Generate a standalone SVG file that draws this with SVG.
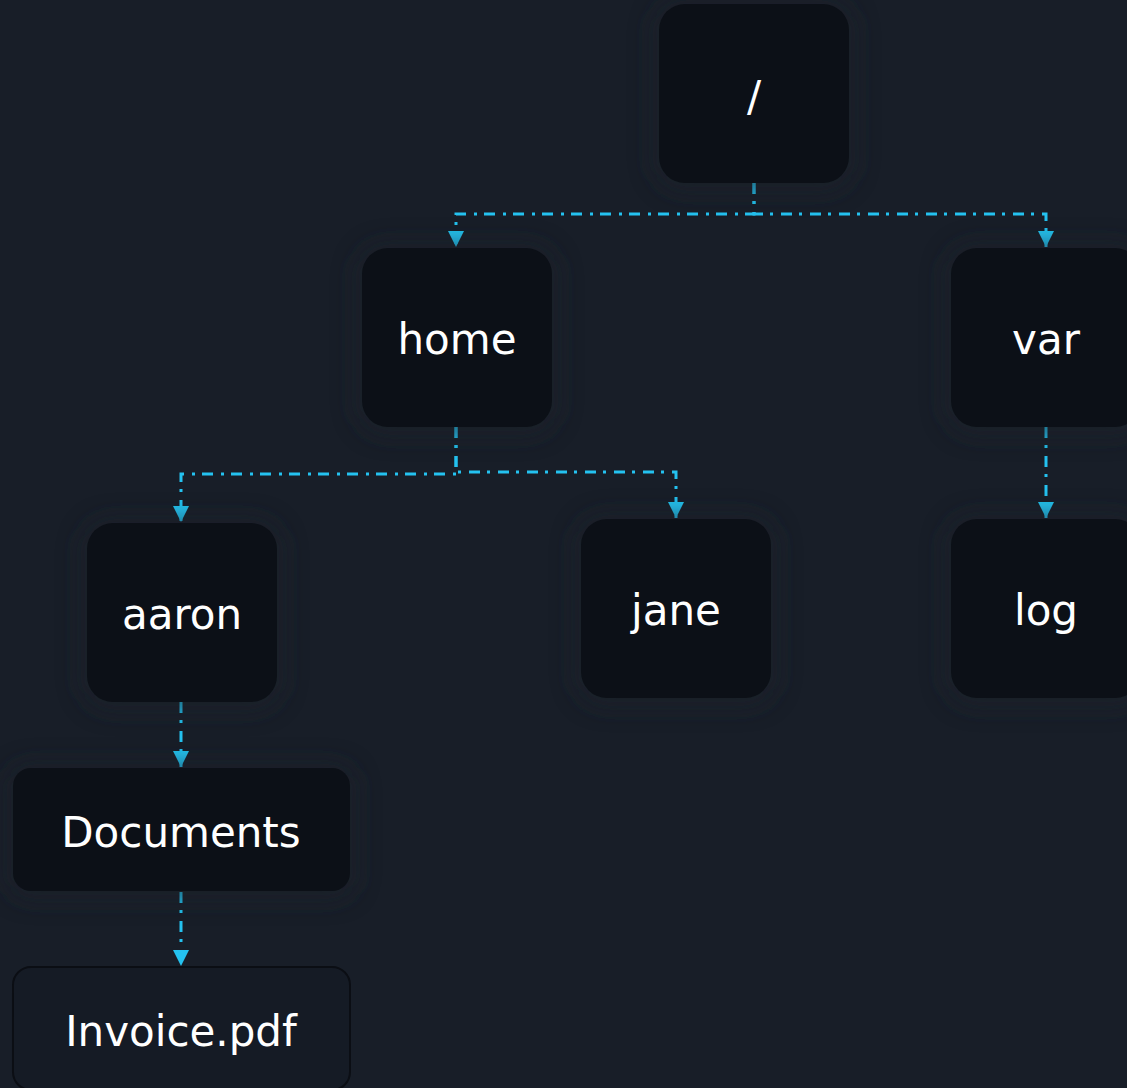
<svg xmlns="http://www.w3.org/2000/svg" width="1127" height="1088" viewBox="0 0 1127 1088">
<style>
.node{fill:#0c1017;}
.leaf{fill:#151b25;stroke:#0b0e14;stroke-width:2;}
.halo{fill:#1a2029;opacity:0.6;filter:url(#blur);}
.lbl{font-family:"DejaVu Sans",Verdana,sans-serif;font-size:42px;fill:#ffffff;text-anchor:middle;}
.edge{fill:none;stroke:#24c2f0;stroke-width:3;stroke-dasharray:11 7 3 8;}
</style>
<defs>
<filter id="blur" x="-30%" y="-30%" width="160%" height="160%"><feGaussianBlur stdDeviation="12"/></filter>
<marker id="arr" viewBox="0 0 16 16" refX="16" refY="8" markerWidth="16" markerHeight="16" markerUnits="userSpaceOnUse" orient="auto">
<path d="M0,0 L16,8 L0,16 Z" fill="#24c2f0"/>
</marker>
</defs>
<rect width="1127" height="1088" fill="#181e28"/>
<g id="connectors">
<path class="edge" d="M754,183 V214 H456 V247" marker-end="url(#arr)"/>
<path class="edge" d="M754,183 V214 H1046 V247" marker-end="url(#arr)"/>
<path class="edge" d="M456,427 V474 H181 V522" marker-end="url(#arr)"/>
<path class="edge" d="M456,427 V472 H676 V518" marker-end="url(#arr)"/>
<path class="edge" d="M1046,427 V518" marker-end="url(#arr)"/>
<path class="edge" d="M181,702 V767" marker-end="url(#arr)"/>
<path class="edge" d="M181,892 V966" marker-end="url(#arr)"/>
</g>
<g id="node-root">
<rect class="halo" x="653" y="0" width="202" height="191" rx="30"/>
<rect class="node" x="659" y="4" width="190" height="179" rx="26"/>
<text class="lbl" x="754" y="111">/</text>
</g>
<g id="node-home">
<rect class="halo" x="356" y="244" width="202" height="191" rx="30"/>
<rect class="node" x="362" y="248" width="190" height="179" rx="26"/>
<text class="lbl" x="457" y="354">home</text>
</g>
<g id="node-var">
<rect class="halo" x="945" y="244" width="202" height="191" rx="30"/>
<rect class="node" x="951" y="248" width="190" height="179" rx="26"/>
<text class="lbl" x="1046" y="354">var</text>
</g>
<g id="node-aaron">
<rect class="halo" x="81" y="519" width="202" height="191" rx="30"/>
<rect class="node" x="87" y="523" width="190" height="179" rx="26"/>
<text class="lbl" x="182" y="629">aaron</text>
</g>
<g id="node-jane">
<rect class="halo" x="575" y="515" width="202" height="191" rx="30"/>
<rect class="node" x="581" y="519" width="190" height="179" rx="26"/>
<text class="lbl" x="676" y="625">jane</text>
</g>
<g id="node-log">
<rect class="halo" x="945" y="515" width="202" height="191" rx="30"/>
<rect class="node" x="951" y="519" width="190" height="179" rx="26"/>
<text class="lbl" x="1046" y="625">log</text>
</g>
<g id="node-documents">
<rect class="halo" x="7" y="764" width="349" height="135" rx="22"/>
<rect class="node" x="13" y="768" width="337" height="123" rx="18"/>
<text class="lbl" x="181" y="847">Documents</text>
</g>
<g id="node-invoice">
<rect class="leaf" x="13" y="967" width="337" height="123" rx="18"/>
<text class="lbl" x="181" y="1046">Invoice.pdf</text>
</g>
</svg>
